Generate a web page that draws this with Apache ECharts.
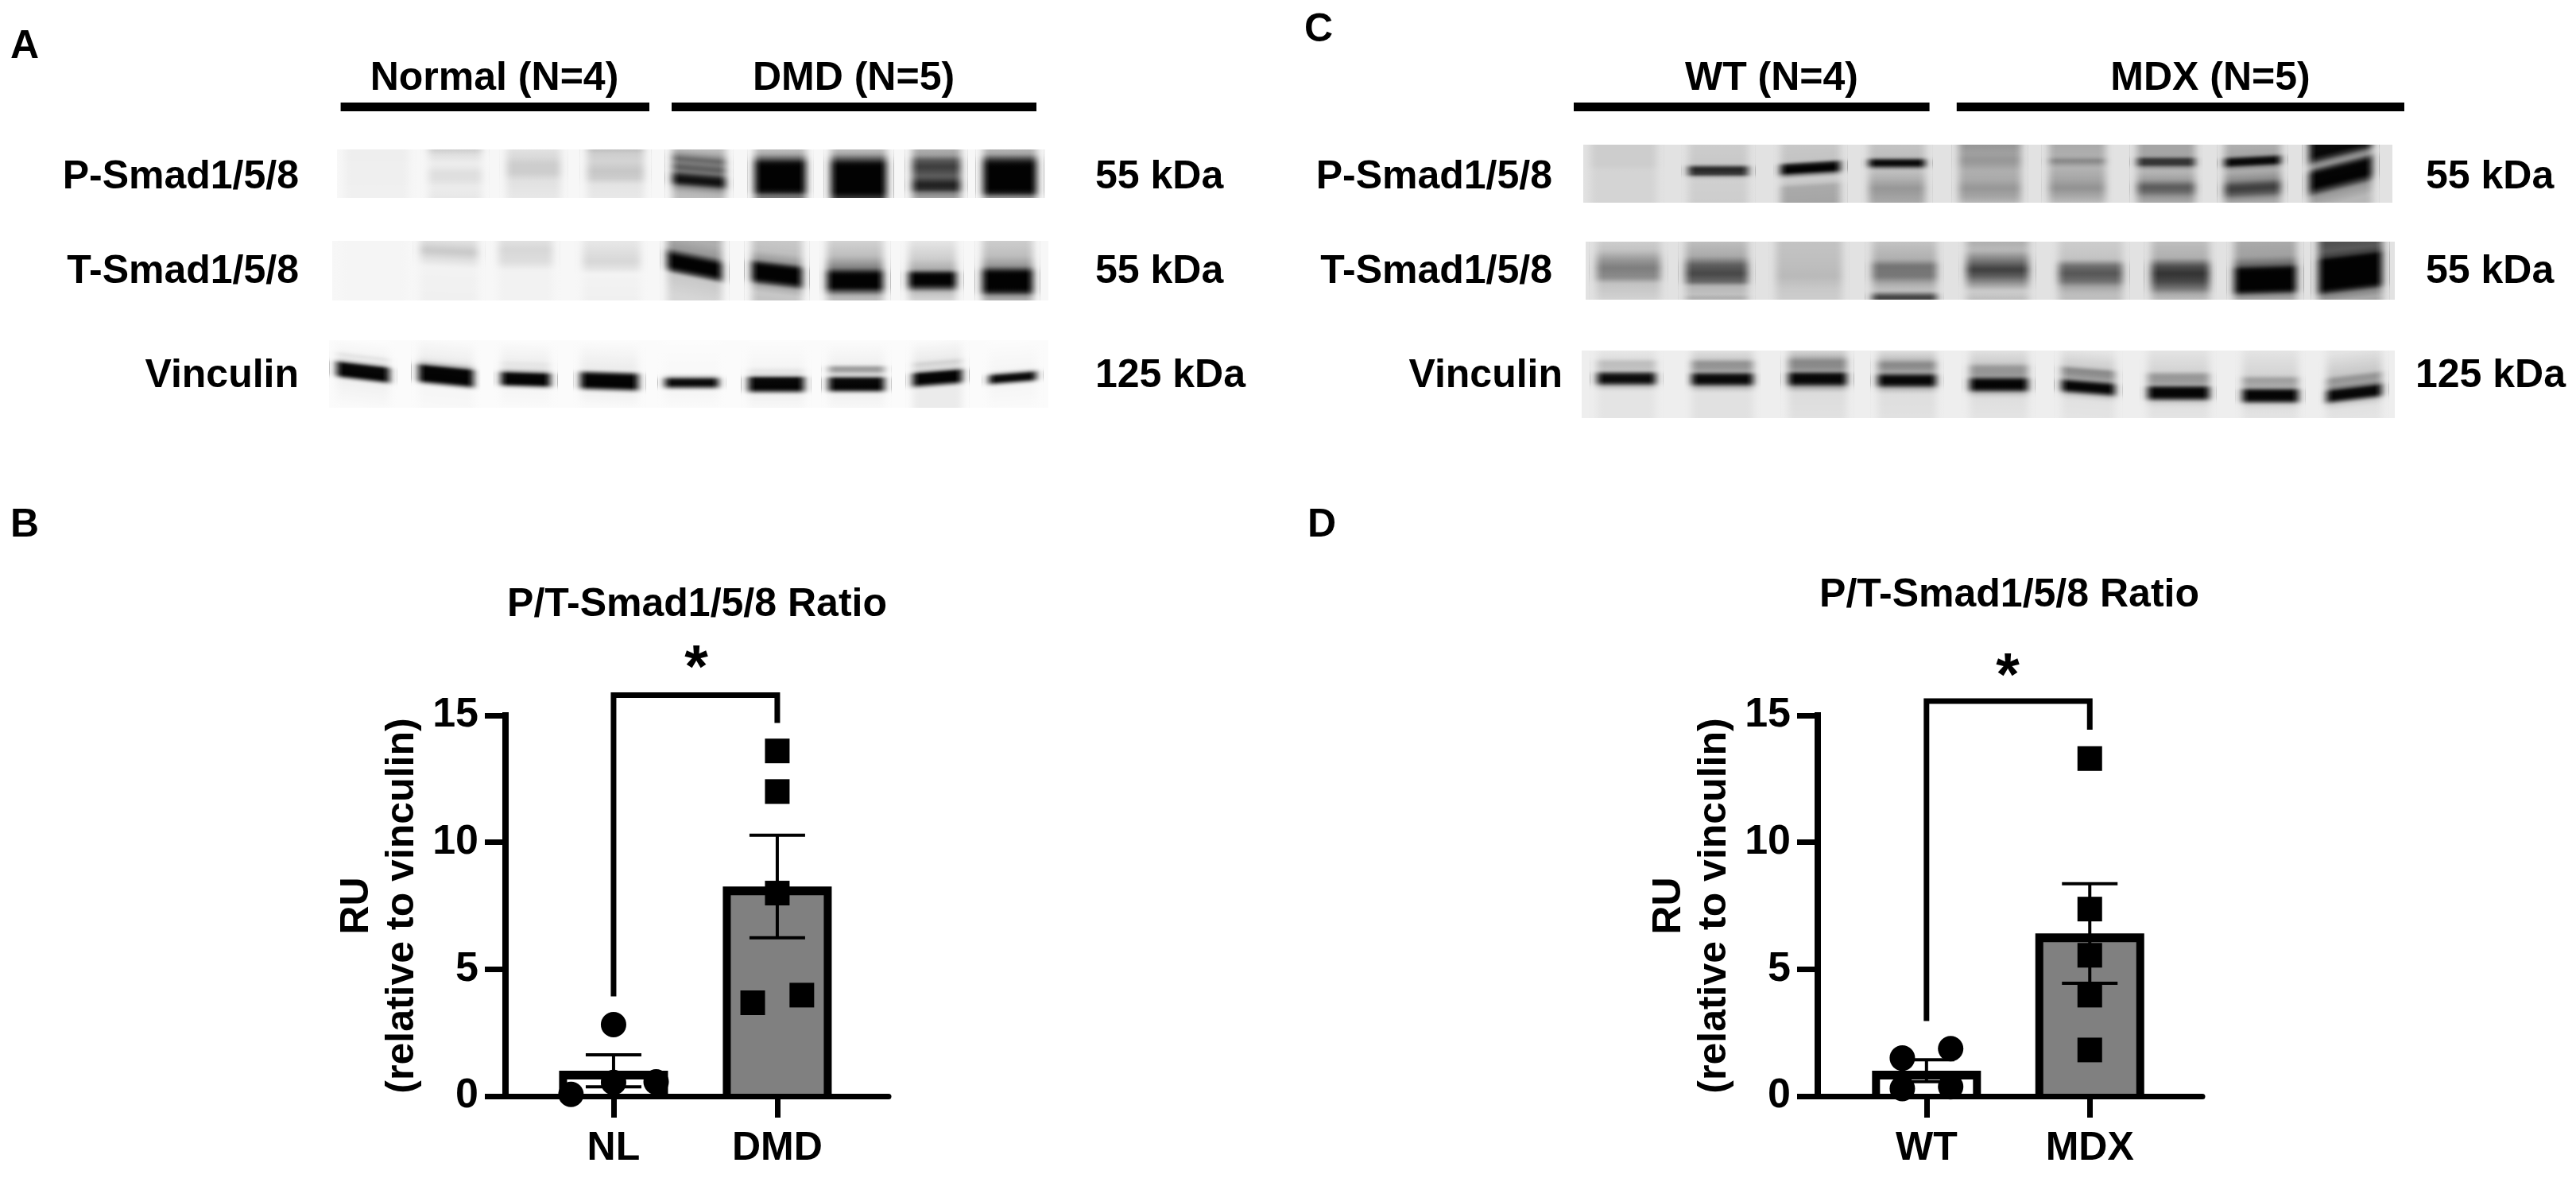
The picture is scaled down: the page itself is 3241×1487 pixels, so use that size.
<!DOCTYPE html>
<html><head><meta charset="utf-8">
<style>html,body{margin:0;padding:0;background:#fff}#c{width:3241px;height:1487px}</style>
<script src="https://cdn.jsdelivr.net/npm/echarts@6/dist/echarts.min.js"></script>
</head><body><div id="c"></div>
<script>
// ---- bar chart data ----
const yTicks = [0, 5, 10, 15];
const catsB = ['NL', 'DMD'];
const meanB = [1.0, 8.26];
const semB = [0.63, 2.02];
const ptsNL = [[0, 2.82], [0, 0.54], [-0.26, 0.07], [0.26, 0.56]];
const ptsDMD = [[1, 13.6], [1, 12.0], [1, 8.0], [0.85, 3.68], [1.15, 3.98]];
const bracketB = [[0, 3.93], [0, 15.8], [1, 15.8], [1, 14.7]];
const catsD = ['WT', 'MDX'];
const meanD = [1.0, 6.41];
const semD = [0.43, 1.96];
const ptsWT = [[-0.148, 1.5], [0.148, 1.87], [-0.148, 0.3], [0.148, 0.37]];
const ptsMDX = [[1, 13.3], [1, 7.37], [1, 5.55], [1, 3.98], [1, 1.82]];
const bracketD = [[0, 2.96], [0, 15.56], [1, 15.56], [1, 14.44]];

// ---- blot lanes: [lane centre %, lane width %, band slope, [depth %, grey, depth %, grey ...]] ----
const blotAP = [
 [5.4,10,0,[0,238,100,240]],
 [16.5,8.5,0,[0,205,12,225,30,238,50,222,62,224,78,236,100,232]],
 [27.6,8.6,0,[0,225,15,218,30,205,48,205,65,225,100,232]],
 [39.2,9,0,[0,190,8,205,25,212,45,198,60,205,72,228,100,232]],
 [51,8.5,0.08,[0,190,10,165,22,100,30,125,40,90,48,120,58,30,66,10,72,40,80,140,90,180,100,190]],
 [62.5,8.2,0,[0,190,10,170,20,90,28,15,35,2,80,2,88,25,94,110,100,120]],
 [73.6,8.8,0,[0,190,10,165,22,70,30,10,36,2,88,2,95,30,100,60]],
 [84.6,7.8,0,[0,175,12,160,22,90,35,60,45,75,55,95,62,70,72,30,82,45,90,130,100,165]],
 [95,8.5,0,[0,180,10,165,20,70,28,15,35,2,82,2,90,30,95,110,100,150]]
];
const blotAT = [
 [5.8,10,0,[0,245,100,245]],
 [16.3,9,0.05,[0,225,18,200,30,222,45,242,100,240]],
 [27,8.5,0,[0,225,15,215,35,222,50,242,100,242]],
 [39,9,0,[0,232,20,222,35,215,45,225,55,243,100,240]],
 [50.6,8.6,0.2,[0,175,20,150,30,30,33,2,50,2,56,60,63,200,100,215]],
 [62.1,8,0.12,[0,200,20,190,35,150,42,30,46,2,66,2,72,60,78,170,90,200,100,195]],
 [73,8.8,0,[0,210,25,190,45,130,55,10,58,2,78,2,84,80,92,180,100,190]],
 [83.8,7.6,0,[0,230,30,205,48,170,55,20,58,2,72,2,78,60,86,190,100,215]],
 [94.3,8,0,[0,205,25,190,42,150,52,20,55,2,80,2,86,40,92,150,100,180]]
];
const blotAV = [
 [4.3,8.3,0.12,[0,252,20,245,25,225,30,240,35,180,38,10,55,2,58,120,62,240,100,250]],
 [15.9,8.6,0.1,[0,250,25,240,32,232,38,180,42,5,62,2,66,140,70,245,100,248]],
 [27,7.8,0.03,[0,252,30,240,35,228,42,232,47,170,50,5,65,2,68,140,72,245,100,250]],
 [38.7,9,0.03,[0,252,32,240,45,235,48,120,52,5,69,2,73,130,77,240,100,250]],
 [50.2,8.4,0,[0,252,50,248,55,180,58,20,66,2,70,120,74,245,100,250]],
 [62,8.7,0,[0,252,40,245,44,228,49,232,53,200,56,10,72,2,76,110,80,240,100,248]],
 [73.2,8.7,0,[0,252,36,240,41,150,46,160,50,225,54,180,57,10,72,2,75,110,79,240,100,248]],
 [84.5,7.8,-0.08,[0,250,28,235,33,208,41,225,45,170,48,5,62,2,66,130,70,235,100,235]],
 [95,7.5,-0.08,[0,252,44,245,48,170,51,15,59,5,62,130,66,245,100,250]]
];
const blotCP = [
 [4.9,9,0,[0,205,35,205,45,212,100,212]],
 [16.6,8.2,0,[0,205,34,200,39,60,43,25,47,60,51,35,55,180,60,208,100,205]],
 [28,8.2,-0.06,[0,200,28,195,33,30,38,2,46,2,50,120,56,205,65,200,72,170,100,165]],
 [38.7,7.8,0,[0,195,22,190,27,30,30,5,35,5,39,110,44,195,60,175,75,150,100,170]],
 [50.2,8.5,0,[0,150,15,160,28,150,32,155,45,175,60,170,75,150,90,165,100,185]],
 [61,7.8,0,[0,170,20,175,28,130,32,150,40,180,60,165,75,145,90,170,100,190]],
 [72,8,0,[0,165,20,165,26,40,30,60,34,40,38,140,45,185,60,160,72,90,80,100,90,150,100,175]],
 [82.7,7.8,-0.05,[0,175,18,165,24,15,30,2,34,25,38,140,45,175,60,140,70,70,76,60,84,90,92,150,100,175]],
 [93.6,8.6,-0.25,[0,10,8,5,16,50,22,130,28,150,34,60,40,5,62,2,70,60,78,150,100,185]]
];
const blotCT = [
 [5.3,8.7,0,[0,205,15,195,32,150,45,125,62,140,72,195,100,210]],
 [16.2,8.5,0,[0,190,25,170,40,95,55,70,70,105,76,180,92,195,96,170,100,185]],
 [27.6,9,0,[0,195,40,190,60,185,80,200,100,205]],
 [39.4,8.8,0,[0,195,30,175,42,115,60,120,72,170,85,195,92,100,96,50,100,90]],
 [50.9,8.5,0,[0,175,15,185,30,130,48,60,60,95,72,150,85,205,100,190]],
 [62.4,8.7,0,[0,205,30,195,42,110,55,85,68,110,78,165,90,190,100,190]],
 [73.5,8,0,[0,190,28,175,42,80,55,50,68,70,82,120,90,170,100,190]],
 [84,8.5,-0.03,[0,170,25,160,40,100,47,10,52,2,82,2,87,50,92,140,100,170]],
 [94.5,8.7,-0.12,[0,80,12,90,22,60,27,5,32,2,76,2,82,50,87,130,100,170]]
];
const blotCV = [
 [5.5,8,0,[0,232,12,222,17,190,25,192,30,200,33,90,37,15,45,8,49,70,53,190,60,228,100,228]],
 [17.3,8.4,0,[0,225,12,205,18,145,26,150,31,170,34,90,37,12,46,5,50,60,54,180,62,225,100,225]],
 [29,8,0,[0,215,8,190,16,135,26,140,30,165,33,80,36,8,46,5,50,50,54,165,62,220,100,225]],
 [40,8,0,[0,225,12,195,20,135,27,145,32,170,36,80,39,8,48,5,52,60,56,180,64,222,100,225]],
 [51.3,8,0,[0,225,18,205,25,150,34,150,38,160,42,60,45,5,55,3,59,70,63,190,70,222,100,228]],
 [62.3,7.4,0.08,[0,230,24,205,30,135,37,145,43,165,47,70,50,5,59,5,63,90,67,200,74,225,100,228]],
 [73.4,8.4,0,[0,228,30,212,37,150,46,155,51,170,54,60,57,5,68,5,72,90,76,205,84,225,100,228]],
 [84.7,7.7,0,[0,228,36,212,43,155,51,170,55,170,58,60,61,5,72,5,76,90,80,210,88,225,100,228]],
 [95,7.6,-0.12,[0,228,33,200,40,145,49,160,54,100,57,10,68,5,72,100,76,205,84,225,100,228]]
];

// ---- layout & style ----
const FONT = '"Liberation Sans", Arial, sans-serif';
const BLOTS = [
 {lanes: blotAP, box: [426, 188, 889, 61], gap: 247},
 {lanes: blotAT, box: [418, 303, 901, 75], gap: 247},
 {lanes: blotAV, box: [418, 428, 901, 85], gap: 251},
 {lanes: blotCP, box: [1993, 182, 1017, 73], gap: 226},
 {lanes: blotCT, box: [1995, 304, 1018, 73], gap: 226},
 {lanes: blotCV, box: [1990, 441, 1023, 85], gap: 238}
];
const grey = (g, a) => `rgba(${Math.round(g)},${Math.round(g)},${Math.round(g)},${a === undefined ? 1 : a})`;
const grids = [], xAxes = [], yAxes = [], series = [];

// The scanned blot is out of focus: soften a lane's depth profile by about 2px.
function softStops(flat, heightPx) {
  const at = p => {
    if (p <= flat[0]) return flat[1];
    for (let k = 2; k < flat.length; k += 2) {
      if (p <= flat[k]) return flat[k - 1] + (flat[k + 1] - flat[k - 1]) * (p - flat[k - 2]) / (flat[k] - flat[k - 2]);
    }
    return flat[flat.length - 1];
  };
  const sigma = 1.6 / heightPx * 100, out = [];
  for (let p = 0; p <= 100; p += 1.5) {
    let sum = 0, wt = 0;
    for (let d = -2.5; d <= 2.5; d += 0.5) {
      const w = Math.exp(-d * d / 2);
      sum += w * at(p + d * sigma); wt += w;
    }
    out.push({offset: Math.min(p / 100, 1), color: grey(sum / wt)});
  }
  return out;
}
const fadeStops = (g, rev) => [0, 0.25, 0.5, 0.75, 1].map(t => {
  const a = 1 - t * t * (3 - 2 * t);
  return {offset: rev ? 1 - t : t, color: grey(g, a)};
}).sort((p, q) => p.offset - q.offset);

BLOTS.forEach((b, i) => {
  grids.push({left: b.box[0], top: b.box[1], width: b.box[2], height: b.box[3], show: true, backgroundColor: grey(b.gap), borderWidth: 0});
  xAxes.push({gridIndex: i, type: 'value', min: 0, max: 100, show: false});
  yAxes.push({gridIndex: i, type: 'value', min: 0, max: 100, inverse: true, show: false});
  series.push({
    type: 'custom', xAxisIndex: i, yAxisIndex: i, silent: true,
    data: b.lanes.map(l => [l[0], l[1], l[2]]),
    encode: {x: 0},
    renderItem(params, api) {
      const lane = b.lanes[params.dataIndex];
      const c = api.value(0), w = api.value(1), s = api.value(2);
      const [xl0, top] = api.coord([c - w / 2, 0]);
      const [xr0, bot] = api.coord([c + w / 2, 100]);
      const xl = xl0 - 5, xr = xr0 + 5;
      const cx = (xl + xr) / 2, h = bot - top, f = 1 + s * s, fade = 18;
      return {type: 'group', children: [
        {type: 'rect', shape: {x: xl, y: top, width: xr - xl, height: h},
          style: {fill: {type: 'linear', global: true, x: cx, y: top, x2: cx - s * h / f, y2: top + h / f, colorStops: softStops(lane[3], h)}}},
        {type: 'rect', shape: {x: xl, y: top, width: fade, height: h},
          style: {fill: {type: 'linear', x: 0, y: 0, x2: 1, y2: 0, colorStops: fadeStops(b.gap, false)}}},
        {type: 'rect', shape: {x: xr - fade, y: top, width: fade, height: h},
          style: {fill: {type: 'linear', x: 0, y: 0, x2: 1, y2: 0, colorStops: fadeStops(b.gap, true)}}}
      ]};
    }
  });
});

const textStyle = {fontFamily: FONT, fontWeight: 'bold', fontSize: 50, color: '#000'};
function addChart(cfg) {
  const gi = grids.length;
  grids.push({left: cfg.left, top: 900, width: cfg.width, height: 479});
  xAxes.push({
    gridIndex: gi, type: 'value', min: cfg.xMin, max: cfg.xMax,
    splitLine: {show: false},
    axisLine: {show: true, onZero: true, lineStyle: {color: '#000', width: 7}},
    axisTick: {show: true, customValues: [0, 1], length: 27, lineStyle: {color: '#000', width: 7}},
    axisLabel: Object.assign({show: true, customValues: [0, 1], margin: 41, formatter: v => cfg.cats[v]}, textStyle)
  });
  yAxes.push({
    gridIndex: gi, type: 'value', min: 0, max: 15, interval: 5,
    splitLine: {show: false},
    axisLine: {show: true, onZero: false, lineStyle: {color: '#000', width: 8, cap: 'square'}},
    axisTick: {show: true, length: 26, lineStyle: {color: '#000', width: 7}},
    axisLabel: Object.assign({show: true, margin: 34, formatter: v => yTicks.includes(v) ? String(v) : ''}, textStyle, {fontSize: 52}),
    name: 'RU\n(relative to vinculin)', nameLocation: 'middle', nameRotate: 90, nameGap: 101,
    nameTextStyle: Object.assign({align: 'center', lineHeight: 57}, textStyle)
  });
  const ax = {xAxisIndex: gi, yAxisIndex: gi};
  series.push(Object.assign({type: 'bar', barWidth: 137, z: 2, silent: true,
    data: cfg.mean.map((m, i) => [i, m]), itemStyle: {color: '#000'}}, ax));
  series.push(Object.assign({type: 'custom', z: 3, silent: true, encode: {x: 0, y: 1},
    data: cfg.mean.map((m, i) => [i, m]),
    renderItem(p, api) {
      const c = api.coord([api.value(0), api.value(1)]), z = api.coord([api.value(0), 0]);
      return {type: 'rect', shape: {x: c[0] - 58.5, y: c[1] + 11, width: 117, height: z[1] - c[1] - 14},
        style: {fill: p.dataIndex === 0 ? '#fff' : '#808080'}};
    }}, ax));
  series.push(Object.assign({type: 'custom', z: 4, silent: true, encode: {x: 0, y: [1, 2]},
    data: cfg.mean.map((m, i) => [i, m + cfg.sem[i], m - cfg.sem[i]]),
    renderItem(p, api) {
      const u = api.coord([api.value(0), api.value(1)]), d = api.coord([api.value(0), api.value(2)]);
      const st = {stroke: '#000', lineWidth: 4, fill: 'none'};
      return {type: 'group', children: [
        {type: 'line', shape: {x1: u[0], y1: u[1], x2: d[0], y2: d[1]}, style: st},
        {type: 'line', shape: {x1: u[0] - 35, y1: u[1], x2: u[0] + 35, y2: u[1]}, style: st},
        {type: 'line', shape: {x1: d[0] - 35, y1: d[1], x2: d[0] + 35, y2: d[1]}, style: st}
      ]};
    }}, ax));
  series.push(Object.assign({type: 'scatter', z: 5, symbol: 'circle', symbolSize: 32, silent: true, clip: false, data: cfg.circles, itemStyle: {color: '#000', opacity: 1}}, ax));
  series.push(Object.assign({type: 'scatter', z: 5, symbol: 'rect', symbolSize: 31, silent: true, clip: false, data: cfg.squares, itemStyle: {color: '#000', opacity: 1}}, ax));
  series.push(Object.assign({type: 'line', z: 6, silent: true, clip: false, symbol: 'none', data: cfg.bracket,
    lineStyle: {color: '#000', width: 7, join: 'miter', cap: 'butt'}}, ax));
}
addChart({left: 636, width: 482, xMin: -0.66, xMax: 1.68, cats: catsB, mean: meanB, sem: semB, circles: ptsNL, squares: ptsDMD, bracket: bracketB});
addChart({left: 2287, width: 484, xMin: -0.666, xMax: 1.69, cats: catsD, mean: meanD, sem: semD, circles: ptsWT, squares: ptsMDX, bracket: bracketD});

// ---- labels ----
const T = (text, x, y, align, size) => ({type: 'text', x, y, silent: true, style: {
  text, fill: '#000', font: `bold ${size || 50}px ${FONT}`, textAlign: align || 'center', textVerticalAlign: 'middle'}});
const R = (x1, x2) => ({type: 'rect', silent: true, shape: {x: x1, y: 129, width: x2 - x1, height: 11}, style: {fill: '#000'}});
const graphics = [
  T('A', 13, 59, 'left'), T('B', 13, 661, 'left'), T('C', 1641, 38, 'left'), T('D', 1645, 661, 'left'),
  T('Normal (N=4)', 622, 99), T('DMD (N=5)', 1074, 99), T('WT (N=4)', 2229, 99), T('MDX (N=5)', 2781, 99),
  R(428.6, 817), R(845, 1304), R(1980, 2427.6), R(2461.8, 3025),
  T('P-Smad1/5/8', 376, 223, 'right'), T('T-Smad1/5/8', 376, 342, 'right'), T('Vinculin', 376, 473, 'right'),
  T('55 kDa', 1378, 223, 'left'), T('55 kDa', 1378, 342, 'left'), T('125 kDa', 1378, 473, 'left'),
  T('P-Smad1/5/8', 1953, 223, 'right'), T('T-Smad1/5/8', 1953, 342, 'right'), T('Vinculin', 1966, 473, 'right'),
  T('55 kDa', 3052, 223, 'left'), T('55 kDa', 3052, 342, 'left'), T('125 kDa', 3039, 473, 'left'),
  T('P/T-Smad1/5/8 Ratio', 877, 761), T('P/T-Smad1/5/8 Ratio', 2528, 749),
  T('*', 876, 843, 'center', 76), T('*', 2526, 853, 'center', 76)
];

const chart = echarts.init(document.getElementById('c'), null, {renderer: 'canvas'});
chart.setOption({
  animation: false, backgroundColor: '#fff',
  grid: grids, xAxis: xAxes, yAxis: yAxes, series, graphic: graphics
});
</script></body></html>
